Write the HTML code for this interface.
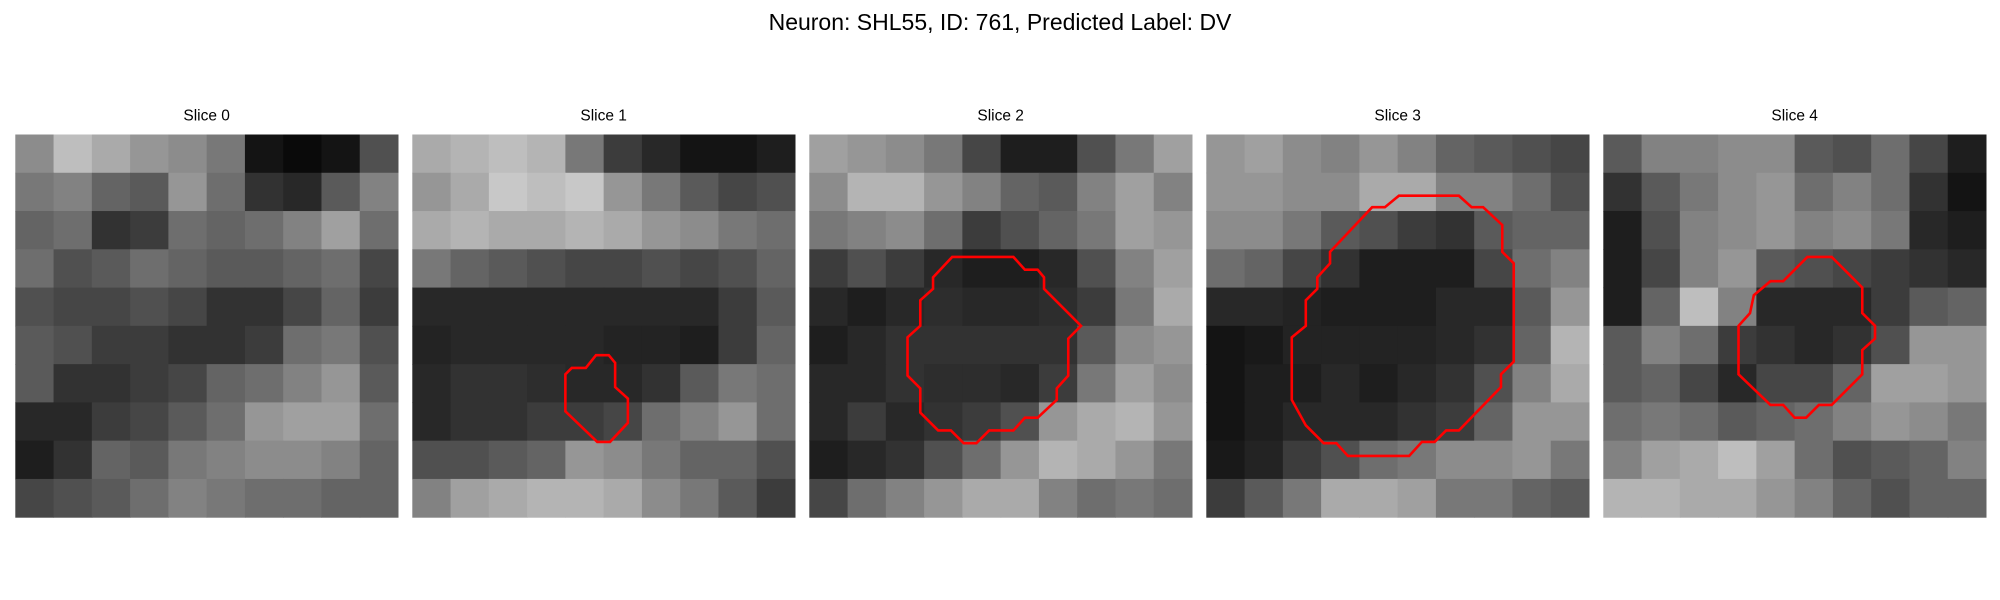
<!DOCTYPE html>
<html><head><meta charset="utf-8"><style>
body{margin:0;background:#fff;}
svg{display:block;font-family:"Liberation Sans","DejaVu Sans",sans-serif;}
</style></head><body>
<svg id="fig" width="2000" height="600" xmlns="http://www.w3.org/2000/svg">
<text x="1000" y="30" text-anchor="middle" font-size="23" fill="#000">Neuron: SHL55, ID: 761, Predicted Label: DV</text>
</svg>
<script>
const sliceTitles = ["Slice 0","Slice 1","Slice 2","Slice 3","Slice 4"];
const img0 = [
[140,190,170,150,140,120,20,10,20,80],
[120,130,100,90,150,110,50,40,90,130],
[100,110,50,60,110,100,110,130,160,110],
[110,80,90,110,100,90,90,100,110,70],
[80,70,70,80,70,50,50,70,100,60],
[90,80,60,60,50,50,60,110,120,80],
[90,50,50,60,70,100,110,130,150,90],
[40,40,60,70,90,110,150,160,160,110],
[30,50,100,90,120,130,140,140,130,100],
[70,80,90,110,130,120,110,110,100,100]];
const img1 = [
[170,180,190,180,120,60,40,20,20,30],
[150,170,200,190,200,150,120,90,70,80],
[170,180,170,170,180,170,150,140,120,110],
[120,100,90,80,70,70,80,70,80,100],
[40,40,40,40,40,40,40,40,60,90],
[35,40,40,40,40,35,35,30,60,100],
[40,50,50,45,40,40,50,90,120,110],
[40,50,50,60,60,70,110,130,150,110],
[80,80,90,100,150,140,120,100,100,80],
[130,160,170,180,180,170,140,120,90,60]];
const img2 = [
[160,150,140,120,70,30,30,80,120,160],
[140,180,180,150,130,100,90,130,160,130],
[120,130,140,110,60,80,100,120,160,150],
[60,80,60,40,30,30,40,80,130,160],
[40,30,40,45,40,40,45,60,120,170],
[30,40,50,50,50,50,50,90,140,150],
[40,40,50,45,45,40,60,120,160,140],
[40,60,40,50,60,80,150,170,180,150],
[30,40,50,80,110,150,180,170,150,120],
[70,110,130,150,170,170,130,110,120,110]];
const img3 = [
[150,160,140,130,150,130,100,90,80,70],
[150,150,140,140,170,170,130,130,110,80],
[140,140,120,90,80,60,50,90,100,100],
[110,100,70,50,30,30,30,70,110,130],
[40,40,35,30,30,30,40,40,90,150],
[20,25,35,35,35,35,40,50,100,180],
[20,30,30,40,30,40,50,80,130,170],
[20,30,40,40,40,50,60,100,150,150],
[25,35,60,80,110,120,140,140,150,120],
[60,90,120,170,170,160,120,120,100,90]];
const img4 = [
[90,130,130,140,140,90,80,110,70,30],
[50,90,120,140,150,110,130,110,50,20],
[30,80,130,140,150,130,140,120,40,30],
[30,70,130,150,90,80,70,60,50,40],
[30,100,190,130,40,40,40,60,90,100],
[90,130,110,60,50,40,50,80,150,150],
[90,100,70,40,70,70,100,160,160,150],
[110,120,110,90,100,110,130,150,140,120],
[130,160,170,190,160,110,80,90,100,130],
[180,180,170,170,150,130,100,80,100,100]];
const images = [img0,img1,img2,img3,img4];
// contours in image pixel units (0..30)
const contour1 = [[14.4,17.3],[15.4,17.3],[15.9,17.9],[15.9,19.8],[16.9,20.7],[16.9,22.6],[15.5,24.1],[14.5,24.1],[12.0,21.7],[12.0,18.8],[12.5,18.3],[13.6,18.3]];
const contour2 = [[11.2,9.6],[16.0,9.6],[16.9,10.6],[17.9,10.6],[18.4,11.2],[18.4,12.1],[21.3,15.0],[20.3,16.0],[20.3,18.9],[19.4,19.9],[19.4,20.8],[17.9,22.2],[16.9,22.2],[16.0,23.2],[14.1,23.2],[13.1,24.2],[12.1,24.2],[11.1,23.2],[10.1,23.2],[8.7,21.8],[8.7,19.9],[7.7,18.9],[7.7,15.9],[8.7,15.0],[8.7,13.0],[9.7,12.1],[9.7,11.2]];
const contour3 = [[15.1,4.8],[19.8,4.8],[20.8,5.7],[21.7,5.7],[23.2,7.1],[23.2,9.2],[24.1,10.1],[24.1,17.8],[23.1,18.8],[23.1,19.8],[19.8,23.2],[18.8,23.2],[17.9,24.1],[16.9,24.1],[15.9,25.2],[11.1,25.2],[10.2,24.2],[9.2,24.2],[7.8,22.8],[6.7,20.8],[6.7,15.9],[7.8,15.0],[7.8,13.0],[8.7,12.1],[8.7,11.2],[9.7,10.1],[9.7,9.2],[13.0,5.7],[14.0,5.7]];
const contour4 = [[16.0,9.6],[17.9,9.6],[20.3,12.0],[20.3,14.0],[21.3,15.0],[21.3,16.0],[20.3,16.9],[20.3,18.8],[17.9,21.2],[16.9,21.2],[15.9,22.2],[15.0,22.2],[14.1,21.2],[13.1,21.2],[10.6,18.8],[10.6,15.0],[11.5,14.0],[11.8,12.6],[13.1,11.5],[14.1,11.5]];
const contours = [null,contour1,contour2,contour3,contour4];

const NS="http://www.w3.org/2000/svg";
const svg=document.getElementById('fig');
const panelX0=15.3, panelStep=397.0, panelY=134.5, panelSize=382.7, imgUnits=30;
function sx(p,u){return panelX0+p*panelStep+u/imgUnits*panelSize;}
function sy(u){return panelY+u/imgUnits*panelSize;}
images.forEach((img,p)=>{
  const g=document.createElementNS(NS,'g');
  
  
  svg.appendChild(g);
  const t=document.createElementNS(NS,'text');
  
  
  t.setAttribute('x',sx(p,15));t.setAttribute('y',panelY-14);
  t.setAttribute('text-anchor','middle');t.setAttribute('font-size','15.5');
  t.textContent=sliceTitles[p];g.appendChild(t);
  const n=img.length, cu=imgUnits/n;
  img.forEach((row,r)=>row.forEach((v,c)=>{
    const rc=document.createElementNS(NS,'rect');
    
    
    const x0=sx(p,c*cu), x1=sx(p,(c+1)*cu), y0=sy(r*cu), y1=sy((r+1)*cu);
    rc.setAttribute('x',x0);rc.setAttribute('y',y0);
    rc.setAttribute('width',x1-x0+0.5);rc.setAttribute('height',y1-y0+0.5);
    rc.setAttribute('fill','rgb('+v+','+v+','+v+')');
    g.appendChild(rc);
  }));
  const ct=contours[p];
  if(ct){
    const pl=document.createElementNS(NS,'polygon');
    
    
    pl.setAttribute('points',ct.map(q=>sx(p,q[0])+','+sy(q[1])).join(' '));
    pl.setAttribute('fill','none');pl.setAttribute('stroke','#ff0000');
    pl.setAttribute('stroke-width','2.6');pl.setAttribute('stroke-linejoin','miter');
    g.appendChild(pl);
  }
});
</script>
</body></html>
